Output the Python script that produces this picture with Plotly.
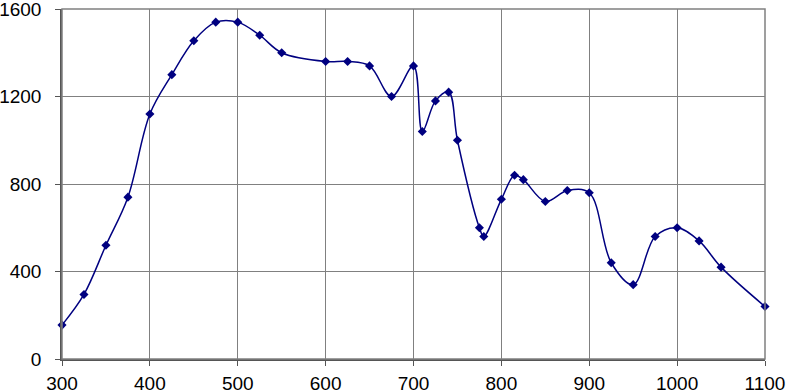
import plotly.graph_objects as go

wavelength = [300, 325, 350, 375, 400, 425, 450, 475, 500, 525, 550, 600, 625, 650,
              675, 700, 710, 725, 740, 750, 775, 780, 800, 815, 825, 850, 875, 900,
              925, 950, 975, 1000, 1025, 1050, 1100]
intensity = [155, 295, 520, 740, 1120, 1300, 1455, 1540, 1540, 1480, 1400, 1360, 1360, 1340,
             1200, 1340, 1040, 1180, 1220, 1000, 600, 560, 730, 840, 820, 720, 770, 760,
             440, 340, 560, 600, 540, 420, 240]

x_ticks = [300, 400, 500, 600, 700, 800, 900, 1000, 1100]
y_ticks = [0, 400, 800, 1200, 1600]

fig = go.Figure()
fig.add_trace(go.Scatter(
    x=wavelength, y=intensity, mode="lines+markers",
    line=dict(color="#000080", width=1.5, shape="spline", smoothing=1),
    marker=dict(symbol="diamond", size=7, color="#000080"),
    showlegend=False, cliponaxis=False,
))

font = dict(family="Liberation Sans, Arial, sans-serif", size=19, color="black")
fig.update_layout(
    width=787, height=392,
    margin=dict(l=62, r=22, t=9, b=33),
    paper_bgcolor="white", plot_bgcolor="white",
    font=font,
)
fig.update_xaxes(
    range=[300, 1100], tickvals=x_ticks, ticktext=[str(v) for v in x_ticks],
    showgrid=True, gridcolor="#808080", gridwidth=1,
    showline=True, linecolor="#555555", linewidth=1.5, mirror=False,
    ticks="outside", ticklen=5, tickcolor="#555555",
    zeroline=False, tickfont=font, automargin=False, ticklabelstandoff=1,
    ticklabeloverflow="allow",
)
fig.update_yaxes(
    range=[0, 1600], tickvals=y_ticks, ticktext=[str(v) for v in y_ticks],
    showgrid=True, gridcolor="#808080", gridwidth=1,
    showline=True, linecolor="#555555", linewidth=1.5, mirror=False,
    ticks="outside", ticklen=5, tickcolor="#555555",
    zeroline=False, tickfont=font, ticklabelstandoff=10, automargin=False,
    ticklabeloverflow="allow",
)
fig.add_shape(type="rect", xref="paper", yref="paper", x0=0, y0=0, x1=1, y1=1,
              line=dict(color="#808080", width=1.5), layer="above")

fig.write_html("out.html", config={"displayModeBar": False},
               post_script="document.body.style.margin='0';")
